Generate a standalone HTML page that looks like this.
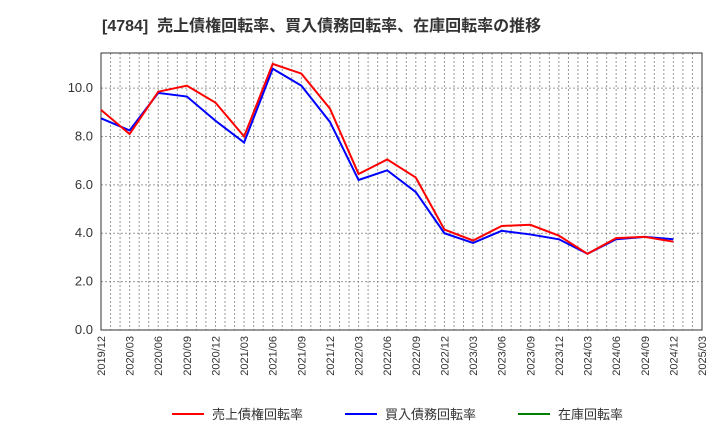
<!DOCTYPE html>
<html><head><meta charset="utf-8"><style>
body{margin:0;background:#fff;font-family:"Liberation Sans","Noto Sans CJK JP",sans-serif;}
</style></head><body>
<svg id="chart" width="720" height="440" xmlns="http://www.w3.org/2000/svg">
<text x="102" y="31" font-size="16" font-weight="bold" fill="#333" font-family="Liberation Sans,Noto Sans CJK JP,sans-serif" xml:space="preserve">[4784]  売上債権回転率、買入債務回転率、在庫回転率の推移</text>
<g id="grid"></g><g id="axes"></g><g id="series"></g>
<g font-size="13" fill="#333" font-family="Liberation Sans,Noto Sans CJK JP,sans-serif">
<line x1="172" y1="414" x2="204" y2="414" stroke="#ff0000" stroke-width="2"/><text x="212" y="419">売上債権回転率</text>
<line x1="345" y1="414" x2="377" y2="414" stroke="#0000ff" stroke-width="2"/><text x="385" y="419">買入債務回転率</text>
<line x1="518" y1="414" x2="550" y2="414" stroke="#008000" stroke-width="2"/><text x="558" y="419">在庫回転率</text>
</g>
</svg>
<script>
const categories=["2019/12","2020/03","2020/06","2020/09","2020/12","2021/03","2021/06","2021/09","2021/12","2022/03","2022/06","2022/09","2022/12","2023/03","2023/06","2023/09","2023/12","2024/03","2024/06","2024/09","2024/12","2025/03"];
const receivables=[9.1,8.1,9.85,10.1,9.4,8.0,11.0,10.6,9.15,6.45,7.05,6.3,4.15,3.7,4.3,4.35,3.9,3.15,3.8,3.85,3.65];
const payables=[8.75,8.25,9.8,9.65,8.65,7.75,10.8,10.1,8.6,6.2,6.6,5.7,4.0,3.6,4.1,3.95,3.75,3.15,3.75,3.85,3.75];
const yTicks=[0,2,4,6,8,10];
const L=101,R=702,T=53,B=330,YMAX=11.45;
const ns="http://www.w3.org/2000/svg";
const step=(R-L)/(categories.length-1);
const x=i=>L+i*step, y=v=>B-v/YMAX*(B-T);
function mk(p,t,a){const e=document.createElementNS(ns,t);for(const k in a)e.setAttribute(k,a[k]);p.appendChild(e);return e;}
const g=document.getElementById('grid'),ax=document.getElementById('axes'),s=document.getElementById('series');
for(let m=1;m<(categories.length-1)*3;m++){const xx=L+m*step/3;
 const l=mk(g,'line',{x1:xx,x2:xx,y1:T,y2:B,stroke:'#999','stroke-dasharray':'2,2','stroke-width':1});
 }
yTicks.forEach(v=>{const l=mk(g,'line',{x1:L,x2:R,y1:y(v),y2:y(v),stroke:'#999','stroke-dasharray':'2,2'});
 
 const t=mk(ax,'text',{x:L-8,y:y(v)+4,'text-anchor':'end','font-size':13,fill:'#333'});t.textContent=v.toFixed(1);
 });
const fr=mk(ax,'rect',{x:L,y:T,width:R-L,height:B-T,fill:'none',stroke:'#333'});

categories.forEach((c,i)=>{const t=mk(ax,'text',{transform:`translate(${x(i)+4},${B+6}) rotate(-90)`,'text-anchor':'end','font-size':11,fill:'#333'});t.textContent=c;
 });
function line(d,c,n){const p=mk(s,'polyline',{points:d.map((v,i)=>x(i)+','+y(v)).join(' '),fill:'none',stroke:c,'stroke-width':2});
 }
line(payables,'#0000ff','payables-line');
line(receivables,'#ff0000','receivables-line');
</script>
</body></html>
